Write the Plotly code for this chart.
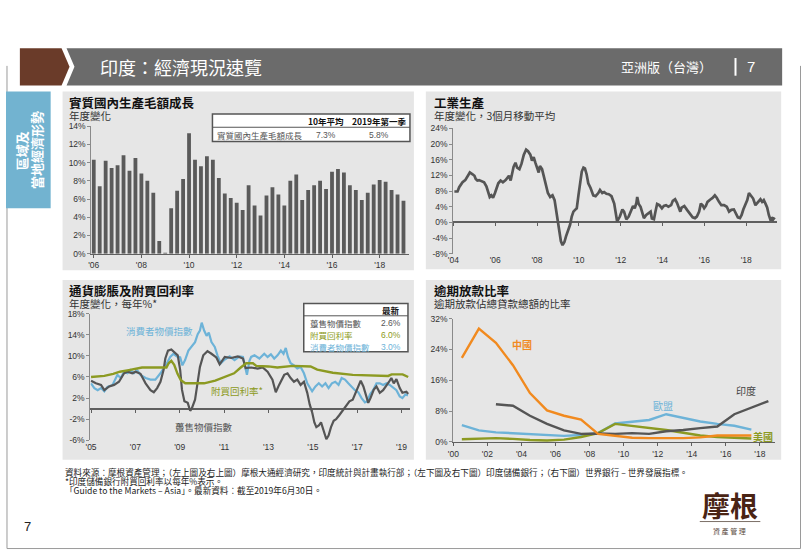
import plotly.graph_objects as go

W, H = 802, 556
def X(px): return px / W
def Y(py): return 1 - py / H

CJK = "Noto Sans CJK TC"
LAT = "Liberation Sans, Arial, sans-serif"

# ---------------- data ----------------
# Panel 1: real GDP growth, % y/y, quarterly 2006Q1 - 2019Q1
gdp_quarters = [f"{y}Q{q}" for y in range(2006, 2020) for q in range(1, 5)][:53]
gdp_values = [10.3, 7.4, 10.2, 9.4, 9.7, 10.8, 9.1, 10.5, 8.8, 8.0, 6.7, 1.4,
              0.1, 5.0, 6.9, 8.2, 13.2, 10.3, 9.6, 10.7, 10.3, 8.3, 6.6, 6.1,
              5.6, 4.8, 7.5, 5.3, 4.2, 6.4, 7.3, 6.5, 5.3, 8.0, 8.7, 5.9,
              7.0, 7.5, 8.0, 7.1, 9.0, 9.3, 8.9, 7.5, 7.0, 5.9, 6.7, 7.6,
              8.1, 7.9, 7.0, 6.5, 5.8]
gdp_table_header = ["10年平均", "2019年第一季"]
gdp_table_row = ["實質國內生產毛額成長", "7.3%", "5.8%"]
gdp_ticks = [2006, 2008, 2010, 2012, 2014, 2016, 2018]
gdp_ticktext = ["'06", "'08", "'10", "'12", "'14", "'16", "'18"]
gdp_yticks = [0, 2, 4, 6, 8, 10, 12, 14]

# Panel 2: industrial production, % y/y, 3m moving average
ip_dates = [2004.05, 2004.20, 2004.28, 2004.44, 2004.57, 2004.68, 2004.79, 2004.92, 2005.01, 2005.07,
            2005.15, 2005.23, 2005.36, 2005.47, 2005.58, 2005.68, 2005.74, 2005.82, 2005.90, 2005.99,
            2006.07, 2006.15, 2006.26, 2006.37, 2006.50, 2006.58, 2006.66, 2006.74, 2006.81, 2006.88,
            2006.97, 2007.05, 2007.16, 2007.26, 2007.37, 2007.48, 2007.57, 2007.68, 2007.76, 2007.84,
            2007.92, 2008.00, 2008.08, 2008.14, 2008.24, 2008.32, 2008.43, 2008.52, 2008.63, 2008.74,
            2008.84, 2008.92, 2009.00, 2009.06, 2009.14, 2009.22, 2009.31, 2009.39, 2009.50, 2009.58,
            2009.66, 2009.74, 2009.82, 2009.90, 2009.98, 2010.06, 2010.14, 2010.22, 2010.29, 2010.37,
            2010.45, 2010.56, 2010.69, 2010.80, 2010.93, 2011.01, 2011.12, 2011.21, 2011.32, 2011.43,
            2011.56, 2011.69, 2011.75, 2011.83, 2011.96, 2012.08, 2012.16, 2012.27, 2012.38, 2012.51,
            2012.59, 2012.67, 2012.75, 2012.79, 2012.86, 2012.95, 2013.02, 2013.11, 2013.22, 2013.33,
            2013.43, 2013.49, 2013.59, 2013.66, 2013.74, 2013.85, 2013.97, 2014.06, 2014.17, 2014.28,
            2014.41, 2014.49, 2014.60, 2014.69, 2014.77, 2014.85, 2014.91, 2015.04, 2015.17, 2015.29,
            2015.44, 2015.55, 2015.64, 2015.75, 2015.83, 2015.91, 2015.99, 2016.07, 2016.15, 2016.27,
            2016.39, 2016.50, 2016.59, 2016.70, 2016.81, 2016.94, 2017.07, 2017.18, 2017.29, 2017.41,
            2017.49, 2017.60, 2017.70, 2017.78, 2017.86, 2017.94, 2018.05, 2018.13, 2018.21, 2018.33,
            2018.44, 2018.55, 2018.68, 2018.76, 2018.84, 2018.92, 2019.00, 2019.08, 2019.15, 2019.23,
            2019.28, 2019.36]
ip_values = [7.9, 7.9, 9.0, 10.25, 10.8, 11.7, 12.75, 12.3, 11.9, 11.1,
             10.7, 10.8, 10.5, 10.25, 9.2, 7.75, 6.5, 6.9, 6.3, 7.5,
             9.0, 10.0, 10.7, 10.25, 10.8, 11.3, 11.9, 10.7, 12.5, 14.2,
             15.25, 14.0, 13.6, 15.0, 17.3, 18.6, 18.2, 17.3, 15.8, 16.7,
             15.25, 14.0, 12.75, 14.4, 13.6, 11.9, 9.4, 7.5, 6.5, 6.9,
             5.7, 3.2, 0.7, -1.8, -4.75, -5.8, -5.0, -3.5, -2.0, -0.6,
             1.5, 2.75, 3.2, 3.6, 6.9, 10.7, 13.0, 14.0, 13.8, 12.3,
             10.0, 8.8, 6.9, 6.7, 7.5, 8.3, 7.5, 7.75, 7.3, 7.2,
             6.7, 4.8, 2.75, 0.25, 1.5, 3.3, 2.75, 0.8, 1.5, 3.3,
             4.2, 3.6, 5.0, 6.5, 4.7, 4.0, 2.5, 1.1, 1.9, 2.3,
             2.75, 1.0, 0.8, 2.75, 4.7, 4.4, 3.6, 4.2, 4.4, 4.0,
             4.4, 5.5, 5.9, 5.0, 3.6, 2.75, 3.8, 4.2, 3.2, 2.2,
             1.3, 1.1, 1.5, 2.75, 4.8, 4.4, 3.6, 4.2, 5.25, 5.8,
             6.25, 6.9, 6.3, 5.25, 4.4, 4.4, 4.0, 2.75, 3.2, 3.3,
             2.3, 1.3, 1.1, 1.9, 3.3, 4.2, 5.7, 7.5, 6.9, 6.1,
             4.4, 5.1, 5.9, 5.25, 5.7, 4.8, 3.8, 1.9, 0.8, 1.1,
             0.7, 1.25]
ip_ticks = [2004, 2006, 2008, 2010, 2012, 2014, 2016, 2018]
ip_ticktext = ["'04", "'06", "'08", "'10", "'12", "'14", "'16", "'18"]
ip_yticks = [-8, -4, 0, 4, 8, 12, 16, 20, 24]

# Panel 3: inflation and repo rate
cpi_dates = [2005.0, 2005.15, 2005.3, 2005.45, 2005.6, 2005.74, 2005.97, 2006.19, 2006.34, 2006.49,
             2006.64, 2006.79, 2006.93, 2007.08, 2007.23, 2007.46, 2007.68, 2007.9, 2008.13, 2008.27,
             2008.42, 2008.57, 2008.72, 2008.87, 2009.02, 2009.12, 2009.24, 2009.39, 2009.54, 2009.69,
             2009.81, 2009.91, 2009.99, 2010.1, 2010.21, 2010.31, 2010.43, 2010.58, 2010.7, 2010.85,
             2011.03, 2011.25, 2011.47, 2011.7, 2011.85, 2011.95, 2012.03, 2012.14, 2012.22, 2012.37,
             2012.59, 2012.81, 2012.96, 2013.11, 2013.26, 2013.41, 2013.56, 2013.68, 2013.78, 2013.88,
             2014.0, 2014.15, 2014.3, 2014.45, 2014.6, 2014.75, 2014.86, 2014.97, 2015.12, 2015.27,
             2015.42, 2015.57, 2015.71, 2015.86, 2016.01, 2016.16, 2016.3, 2016.45, 2016.6, 2016.75,
             2016.9, 2017.05, 2017.2, 2017.35, 2017.46, 2017.58, 2017.72, 2017.87, 2018.02, 2018.17,
             2018.32, 2018.47, 2018.62, 2018.77, 2018.92, 2019.04, 2019.18, 2019.29]
cpi_values = [4.8, 3.9, 3.5, 3.9, 3.3, 4.1, 4.5, 6.4, 5.8, 7.0,
              6.7, 7.3, 6.7, 7.3, 6.4, 5.8, 5.5, 5.5, 6.7, 7.6,
              8.6, 9.8, 10.4, 9.9, 9.7, 8.2, 9.2, 11.0, 11.8, 12.6,
              14.1, 14.8, 16.3, 14.8, 13.8, 14.4, 12.6, 11.7, 10.1, 8.6,
              9.3, 9.9, 9.2, 9.9, 9.8, 7.5, 6.4, 9.0, 9.8, 10.1,
              9.5, 10.4, 9.8, 10.3, 9.5, 10.1, 11.0, 10.4, 11.5, 9.8,
              8.6, 8.2, 7.6, 7.9, 6.7, 4.8, 3.9, 3.3, 4.2, 4.8,
              4.2, 4.8, 3.9, 4.8, 5.1, 4.5, 5.8, 5.5, 4.8, 4.2,
              3.5, 3.1, 2.0, 1.2, 1.4, 2.7, 3.5, 4.8, 4.8, 4.5,
              4.8, 4.5, 3.9, 3.5, 2.3, 2.0, 2.7, 2.5]
wpi_dates = [2005.0, 2005.22, 2005.45, 2005.6, 2005.82, 2006.04, 2006.26, 2006.49, 2006.64, 2006.86,
             2007.01, 2007.23, 2007.46, 2007.68, 2007.83, 2007.98, 2008.13, 2008.27, 2008.35, 2008.47,
             2008.62, 2008.77, 2008.91, 2009.02, 2009.1, 2009.21, 2009.36, 2009.47, 2009.54, 2009.69,
             2009.81, 2009.91, 2010.06, 2010.25, 2010.43, 2010.65, 2010.8, 2011.03, 2011.32, 2011.62,
             2011.85, 2011.97, 2012.22, 2012.51, 2012.74, 2012.96, 2013.18, 2013.33, 2013.48, 2013.71,
             2013.86, 2014.0, 2014.15, 2014.3, 2014.45, 2014.6, 2014.75, 2014.86, 2014.97, 2015.07,
             2015.16, 2015.27, 2015.37, 2015.49, 2015.61, 2015.71, 2015.82, 2015.94, 2016.05, 2016.2,
             2016.35, 2016.5, 2016.65, 2016.8, 2016.9, 2017.05, 2017.16, 2017.28, 2017.4, 2017.5,
             2017.6, 2017.75, 2017.87, 2018.02, 2018.17, 2018.32, 2018.44, 2018.54, 2018.65, 2018.77,
             2018.92, 2019.04, 2019.14, 2019.22, 2019.3]
wpi_values = [5.3, 4.8, 4.5, 3.5, 4.2, 4.5, 5.1, 6.7, 7.0, 6.7,
              7.0, 6.6, 4.8, 3.5, 3.1, 3.9, 5.1, 7.3, 9.5, 11.0,
              11.2, 10.7, 10.1, 7.3, 3.6, 1.4, 1.1, -0.4, 0.0, 1.7,
              4.8, 7.9, 10.1, 10.9, 10.4, 9.7, 8.4, 9.8, 9.6, 9.9,
              9.5, 7.7, 7.8, 7.6, 7.8, 7.0, 5.5, 3.1, 4.5, 6.4,
              6.7, 5.8, 5.1, 5.5, 4.5, 5.1, 3.0, 0.8, -0.7, -2.6,
              -3.5, -3.2, -2.6, -4.2, -5.8, -5.1, -3.5, -2.3, -2.0, -1.2,
              -0.4, 0.5, 1.4, 1.7, 2.7, 4.2, 5.3, 4.2, 2.7, 1.1,
              2.0, 3.6, 4.2, 3.0, 3.5, 4.3, 5.1, 5.8, 4.8, 5.6,
              3.9, 3.0, 3.1, 3.2, 2.8]
repo_dates = [2005.0, 2005.6, 2006.0, 2006.3, 2006.7, 2007.0, 2007.3, 2008.4, 2008.5, 2008.62,
              2008.75, 2008.9, 2009.05, 2009.25, 2010.1, 2010.6, 2011.0, 2011.45, 2011.75, 2012.0,
              2012.3, 2012.45, 2013.0, 2013.4, 2014.1, 2014.9, 2015.2, 2015.9, 2016.8, 2017.8,
              2018.4, 2018.55, 2019.05, 2019.3]
repo_values = [6.0, 6.2, 6.6, 7.0, 7.3, 7.6, 7.8, 7.8, 8.6, 9.05,
               8.3, 6.6, 5.4, 4.8, 4.8, 5.3, 5.95, 6.7, 7.8, 8.6,
               8.6, 8.1, 8.0, 7.8, 8.1, 8.0, 7.4, 6.8, 6.4, 6.2,
               6.2, 6.5, 6.5, 6.0]
infl_names = ["躉售物價指數", "附買回利率", "消費者物價指數"]
infl_latest = ["2.6%", "6.0%", "3.0%"]
infl_ticks = [2005, 2007, 2009, 2011, 2013, 2015, 2017, 2019]
infl_ticktext = ["'05", "'07", "'09", "'11", "'13", "'15", "'17", "'19"]
infl_yticks = [-6, -2, 2, 6, 10, 14, 18]

# Panel 4: non-performing loans, % of total gross loans (annual)
npl_years = [2000, 2001, 2002, 2003, 2004, 2005, 2006, 2007, 2008,
             2009, 2010, 2011, 2012, 2013, 2014, 2015, 2016, 2017, 2018]
npl_china = [21.8, 29.4, 25.7, 19.9, 12.7, 8.2, 6.8, 5.8, 2.1,
             1.6, 1.1, 1.0, 1.0, 1.0, 1.2, 1.7, 1.7, 1.7, None]
npl_india = [None, None, 9.8, 9.4, 6.8, 4.7, 3.0, 2.1, 2.2,
             2.1, 2.3, 2.1, 2.8, 3.1, 3.6, 4.0, 7.2, 8.9, 10.6]
npl_eu = [4.4, 3.0, 2.5, 2.3, 2.0, 1.8, 1.6, 1.8, 2.3,
          4.8, 5.3, 5.7, 7.2, 6.2, 5.3, 4.7, 4.2, 3.2, None]
npl_us = [0.7, 0.9, 1.0, 0.8, 0.5, 0.4, 0.6, 1.3, 2.3,
          4.7, 4.2, 3.6, 3.1, 2.4, 1.7, 1.3, 1.1, 0.9, None]
npl_names = ["中國", "印度", "歐盟", "美國"]
npl_ticks = [2000, 2002, 2004, 2006, 2008, 2010, 2012, 2014, 2016, 2018]
npl_ticktext = ["'00", "'02", "'04", "'06", "'08", "'10", "'12", "'14", "'16", "'18"]
npl_yticks = [0, 8, 16, 24, 32]

panel_titles = ["實質國內生產毛額成長", "工業生產", "通貨膨脹及附買回利率", "逾期放款比率"]
panel_subtitles = ["年度變化", "年度變化，3個月移動平均", "年度變化，每年%*", "逾期放款佔總貸款總額的比率"]

footer_lines = [
    "資料來源：摩根資產管理；（左上圖及右上圖）摩根大通經濟研究，印度統計與計畫執行部；（左下圖及右下圖）印度儲備銀行；（右下圖）世界銀行 – 世界發展指標。",
    "*印度儲備銀行附買回利率以每年%表示。",
    "「Guide to the Markets – Asia」。最新資料：截至2019年6月30日。",
]

# ---------------- styles ----------------
BAR = "#5a5a5a"
DARK = "#555555"
BLUE = "#6db3d8"
GREEN = "#8c9a22"
ORANGE = "#f18a1f"
PANEL = "#e6e6e6"
TICKFONT = dict(family=LAT, size=8.5, color="#333333")

gdp_x = [int(q[:4]) + (int(q[-1]) - 1) / 4 for q in gdp_quarters]
mid = lambda ys: [y + 0.5 for y in ys]

fig = go.Figure()
fig.add_trace(go.Bar(x=gdp_x, y=gdp_values, width=0.16, marker=dict(color=BAR, line=dict(width=0)),
                     xaxis="x", yaxis="y"))
fig.add_trace(go.Scatter(x=ip_dates, y=ip_values, mode="lines", line=dict(color=DARK, width=2.7),
                         xaxis="x2", yaxis="y2"))
fig.add_trace(go.Scatter(x=cpi_dates, y=cpi_values, mode="lines", line=dict(color=BLUE, width=2.2),
                         xaxis="x3", yaxis="y3"))
fig.add_trace(go.Scatter(x=wpi_dates, y=wpi_values, mode="lines", line=dict(color=DARK, width=2.2),
                         xaxis="x3", yaxis="y3"))
fig.add_trace(go.Scatter(x=repo_dates, y=repo_values, mode="lines", line=dict(color=GREEN, width=2.4),
                         xaxis="x3", yaxis="y3"))
for vals, col in [(npl_eu, BLUE), (npl_us, GREEN), (npl_india, DARK), (npl_china, ORANGE)]:
    fig.add_trace(go.Scatter(x=mid(npl_years), y=vals, mode="lines", line=dict(color=col, width=2.4),
                             xaxis="x4", yaxis="y4", connectgaps=False))
# helper traces for tick-only axes sitting on the zero lines
fig.add_trace(go.Scatter(x=[], y=[], xaxis="x5", yaxis="y2"))
fig.add_trace(go.Scatter(x=[], y=[], xaxis="x6", yaxis="y3"))


def pct(v):
    return f"{v}%"


def yax(dom, rng, ticks, anchor, zero=False):
    return dict(domain=[Y(dom[0]), Y(dom[1])], range=rng, tickvals=ticks,
                ticktext=[pct(t) for t in ticks], showgrid=False, showline=True,
                linecolor="#8a8a8a", linewidth=1, ticks="outside", ticklen=3, tickcolor="#8a8a8a",
                tickfont=TICKFONT, zeroline=zero, zerolinecolor="#5f5f5f", zerolinewidth=2,
                anchor=anchor, fixedrange=True)


def xax(dom, rng, ticks, text, anchor, line=False):
    return dict(domain=[X(dom[0]), X(dom[1])], range=rng, tickvals=ticks, ticktext=text,
                showgrid=False, zeroline=False, showline=line, linecolor="#5f5f5f", linewidth=1.5,
                ticks="outside" if line else "", ticklen=3, tickcolor="#5f5f5f",
                tickfont=TICKFONT, anchor=anchor, fixedrange=True)


def zero_pos(dom, rng):
    y0, y1 = Y(dom[0]), Y(dom[1])
    return y0 + (0 - rng[0]) / (rng[1] - rng[0]) * (y1 - y0)


d1x, d1y = (86, 406), (253.3, 123.3)
d2x, d2y = (450.7, 777), (253.3, 125.7)
d3x, d3y = (85, 407), (443.3, 314.3)
d4x, d4y = (450.7, 775), (445, 319.3)
r2y, r3y = [-8, 24], [-6, 18]
r2x, r3x = [2004, 2019.48], [2004.97, 2019.38]

fig.update_layout(
    width=W, height=H, margin=dict(l=0, r=0, t=0, b=0), autosize=False,
    paper_bgcolor="white", plot_bgcolor="rgba(0,0,0,0)", showlegend=False,
    xaxis=xax(d1x, [2005.9, 2019.23], gdp_ticks, gdp_ticktext, "y", line=True),
    yaxis=yax(d1y, [0, 14], gdp_yticks, "x"),
    xaxis2=xax(d2x, r2x, ip_ticks, ip_ticktext, "y2"),
    yaxis2=yax(d2y, r2y, ip_yticks, "x2", zero=True),
    xaxis3=xax(d3x, r3x, infl_ticks, infl_ticktext, "y3"),
    yaxis3=yax(d3y, r3y, infl_yticks, "x3", zero=True),
    xaxis4=xax(d4x, [2000, 2018.9], npl_ticks, npl_ticktext, "y4", line=True),
    yaxis4=yax(d4y, [0, 32], npl_yticks, "x4"),
    xaxis5=dict(domain=[X(d2x[0]), X(d2x[1])], range=r2x, overlaying="x2", anchor="free",
                position=zero_pos(d2y, r2y), tickvals=ip_ticks, showticklabels=False,
                ticks="outside", ticklen=3, tickcolor="#5f5f5f", showline=False, showgrid=False,
                zeroline=False),
    xaxis6=dict(domain=[X(d3x[0]), X(d3x[1])], range=r3x, overlaying="x3", anchor="free",
                position=zero_pos(d3y, r3y), tickvals=infl_ticks, showticklabels=False,
                ticks="outside", ticklen=3, tickcolor="#5f5f5f", showline=False, showgrid=False,
                zeroline=False),
)

shapes = []
def rect(x0, y0, x1, y1, fill, line=None, lw=0, layer="below"):
    shapes.append(dict(type="rect", xref="paper", yref="paper", x0=X(x0), x1=X(x1), y0=Y(y1), y1=Y(y0),
                       fillcolor=fill, line=dict(color=line or fill, width=lw), layer=layer))

def hline(x0, x1, y, color, w=1, layer="above"):
    shapes.append(dict(type="line", xref="paper", yref="paper", x0=X(x0), x1=X(x1), y0=Y(y), y1=Y(y),
                       line=dict(color=color, width=w), layer=layer))

def poly(pts, fill, layer="below", line=None, lw=0):
    path = "M " + " L ".join(f"{X(a)},{Y(b)}" for a, b in pts) + " Z"
    shapes.append(dict(type="path", xref="paper", yref="paper", path=path, fillcolor=fill,
                       line=dict(color=line or fill, width=lw), layer=layer))

# page frame
shapes.append(dict(type="path", xref="paper", yref="paper",
                   path=f"M {X(1)},{Y(62)} L {X(1)},{Y(553.5)} L {X(800.5)},{Y(553.5)} L {X(800.5)},{Y(62)}",
                   line=dict(color="#9a9a9a", width=1), layer="below"))
# header
poly([(14, 44), (56, 44), (64, 63), (56, 82), (14, 82)], "#6a3b29")
poly([(61, 44), (782, 44), (782, 82), (61, 82), (69, 63)], "#6b6b6b")
shapes.append(dict(type="line", xref="paper", yref="paper", x0=X(735), x1=X(735), y0=Y(72), y1=Y(54),
                   line=dict(color="white", width=2)))
# side tab
rect(0, 88, 45, 207, "#72b3d0")
# panels
rect(57, 88, 411, 270, PANEL)
rect(423, 88, 781, 269, PANEL)
rect(57, 280, 411, 463, PANEL)
rect(423, 280, 781, 463, PANEL)
# table boxes
rect(208, 111, 407, 139, "white", "#555555", 1.5, layer="above")
hline(208, 407, 124.5, "#555555", 1)
rect(300, 304, 405, 353, "white", "#555555", 1.5, layer="above")
hline(300, 405, 316.5, "#555555", 1)
# logo underline
hline(699, 760, 526, "#5a4a40", 0.8)

fig.update_layout(shapes=shapes)

ann = []
def txt(x, y, s, size, color="#222222", bold=False, xa="left", family=CJK, angle=0, ya="middle"):
    ann.append(dict(x=X(x), y=Y(y), xref="paper", yref="paper", text=f"<b>{s}</b>" if bold else s,
                    showarrow=False, xanchor=xa, yanchor=ya, textangle=angle, align="left",
                    font=dict(family=family, size=size, color=color)))

# header text
txt(93, 63, "印度：經濟現況速覽", 18, "white")
txt(713, 63, "亞洲版（台灣）", 13, "white", xa="right")
txt(751, 63, "7", 15, "white", xa="center", family=LAT)
# side tab text
txt(15, 148, "區域及", 13, "white", bold=True, xa="center", angle=-90)
txt(31, 148, "當地經濟形勢", 13, "white", bold=True, xa="center", angle=-90)

# panel titles + subtitles (one text block each; base size sets the line spacing)
for (px_, py_), t, s in zip([(61, 105), (429, 105), (61, 296.5), (429, 296.5)],
                            panel_titles, panel_subtitles):
    txt(px_, py_, f"<b><span style='font-size:12.5px;color:#111111'>{t}</span></b><br>"
                  f"<span style='font-size:10.5px'>{s}</span>", 9.2, "#333333")

# GDP table
txt(322, 118, gdp_table_header[0], 8.5, "#111111", bold=True, xa="center")
txt(376, 118, gdp_table_header[1], 8.5, "#111111", bold=True, xa="center")
txt(211, 132, gdp_table_row[0], 8.5, "#555555")
txt(322, 132, gdp_table_row[1], 8.5, "#555555", xa="center", family=LAT)
txt(376, 132, gdp_table_row[2], 8.5, "#555555", xa="center", family=LAT)

# inflation table
txt(399, 310.5, "最新", 8.5, "#111111", bold=True, xa="right")
for i, (nm, v, c) in enumerate(zip(infl_names, infl_latest, [DARK, GREEN, BLUE])):
    yy = 323.5 + i * 12.5
    txt(304, yy, nm, 8.5, c)
    txt(400, yy, v, 8.5, c, xa="right", family=LAT)

# series labels panel 3
txt(155, 332, "消費者物價指數", 9.5, BLUE, xa="center")
txt(233, 393, "附買回利率*", 9.5, GREEN, xa="center")
txt(199, 430, "躉售物價指數", 9.5, DARK, xa="center")

# series labels panel 4
txt(520, 346, npl_names[0], 10, ORANGE, bold=True, xa="center")
txt(746, 393, npl_names[1], 10, "#444444", xa="center")
txt(662, 408, npl_names[2], 10, BLUE, xa="center")
txt(763, 439, npl_names[3], 10, GREEN, bold=True, xa="center")

# footer (one block, base size sets ~9px line spacing)
footer_text = "<br>".join(f"<span style='font-size:8.6px'>{l}</span>" for l in footer_lines)
txt(57, 485, footer_text, 6.9, "#222222")
txt(22, 531, "7", 13, "#222222", xa="center", family=LAT)
txt(729, 509, "摩根", 28, "#4a2414", bold=True, xa="center")
txt(729, 536, "資 產 管 理", 7, "#5a4a40", xa="center")

fig.update_layout(annotations=ann)
fig.write_html("out.html", config={"displayModeBar": False, "staticPlot": True},
               post_script="document.body.style.margin='0';document.body.style.overflow='hidden';")
